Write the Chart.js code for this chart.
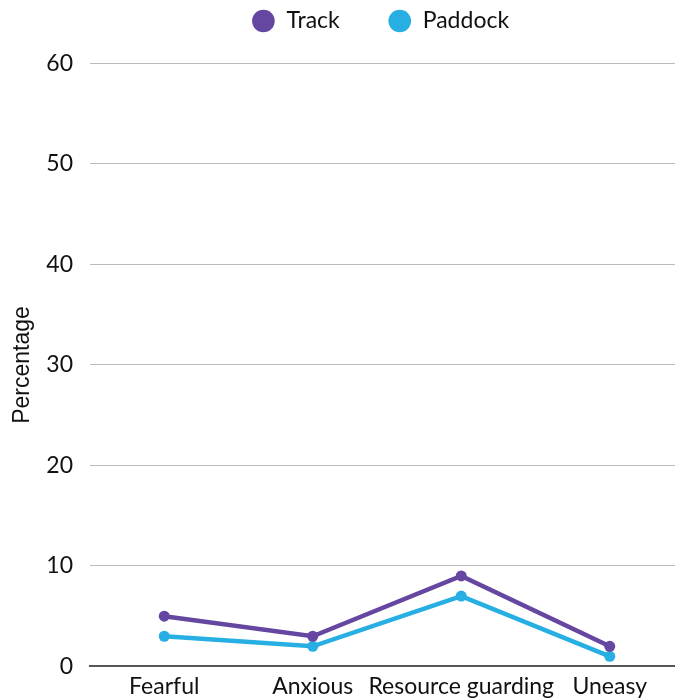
<!DOCTYPE html>
<html>
<head>
<meta charset="utf-8">
<script src="https://cdn.jsdelivr.net/npm/chart.js@4"></script>
<style>
  html, body { margin: 0; padding: 0; background: #fff; }
  #wrap { position: relative; width: 675px; height: 698px; overflow: hidden; }
  #behaviourChart { position: absolute; left: 0; top: -39px; }
</style>
</head>
<body>
<div id="wrap">
  <canvas id="behaviourChart" width="763" height="745"></canvas>
</div>
<script>
// data
const categories = ["Fearful", "Anxious", "Resource guarding", "Uneasy"];
const trackValues = [5, 3, 9, 2];
const paddockValues = [3, 2, 7, 1];
const yTicks = [0, 10, 20, 30, 40, 50, 60];

const TRACK_COLOR = "#6546a0";
const PADDOCK_COLOR = "#27afe4";

// push the plot down below the legend, and centre the legend on the whole canvas
const legendTweaks = {
    id: "legendTweaks",
    beforeInit(chart) {
        const origFit = chart.legend.fit;
        chart.legend.fit = function () {
            origFit.bind(chart.legend)();
            this.height += 21;
        };
    },
    afterLayout(chart) {
        chart.legend.left += 38.5;
        chart.legend.right += 38.5;
    }
};

const ctx = document.getElementById("behaviourChart").getContext("2d");

new Chart(ctx, {
    type: "line",
    data: {
        labels: categories,
        datasets: [{
            label: "Track",
            data: trackValues,
            borderColor: TRACK_COLOR,
            backgroundColor: TRACK_COLOR,
            borderWidth: 4.5,
            pointRadius: 5.5,
            pointBorderWidth: 0,
            tension: 0
        }, {
            label: "Paddock",
            data: paddockValues,
            borderColor: PADDOCK_COLOR,
            backgroundColor: PADDOCK_COLOR,
            borderWidth: 4.5,
            pointRadius: 5.5,
            pointBorderWidth: 0,
            tension: 0
        }]
    },
    options: {
        responsive: false,
        animation: false,
        devicePixelRatio: 1,
        layout: {
            padding: { left: 0, right: 79, top: 0, bottom: 0 }
        },
        plugins: {
            legend: {
                position: "top",
                labels: {
                    usePointStyle: true,
                    pointStyle: "circle",
                    boxHeight: 16,
                    padding: 48.5,
                    color: "#111",
                    font: { family: "Lato", size: 23 }
                }
            },
            tooltip: { enabled: false }
        },
        scales: {
            x: {
                offset: true,
                grid: { display: false, drawTicks: false },
                border: { display: true, color: "#555", width: 2 },
                ticks: {
                    color: "#111",
                    padding: 6,
                    maxRotation: 0,
                    autoSkip: false,
                    font: { family: "Lato", size: 23 }
                }
            },
            y: {
                min: 0,
                max: 60,
                afterBuildTicks(axis) {
                    axis.ticks = yTicks.map(v => ({ value: v }));
                },
                afterFit(axis) {
                    axis.width = 90;
                },
                grid: { color: "#bbb", lineWidth: 1, drawTicks: false },
                border: { display: false },
                ticks: {
                    color: "#111",
                    padding: 17,
                    font: { family: "Lato", size: 23 }
                },
                title: {
                    display: true,
                    text: "Percentage",
                    color: "#111",
                    padding: { top: 9, bottom: 0 },
                    font: { family: "Liberation Sans", size: 23 }
                }
            }
        }
    },
    plugins: [legendTweaks]
});
</script>
</body>
</html>
